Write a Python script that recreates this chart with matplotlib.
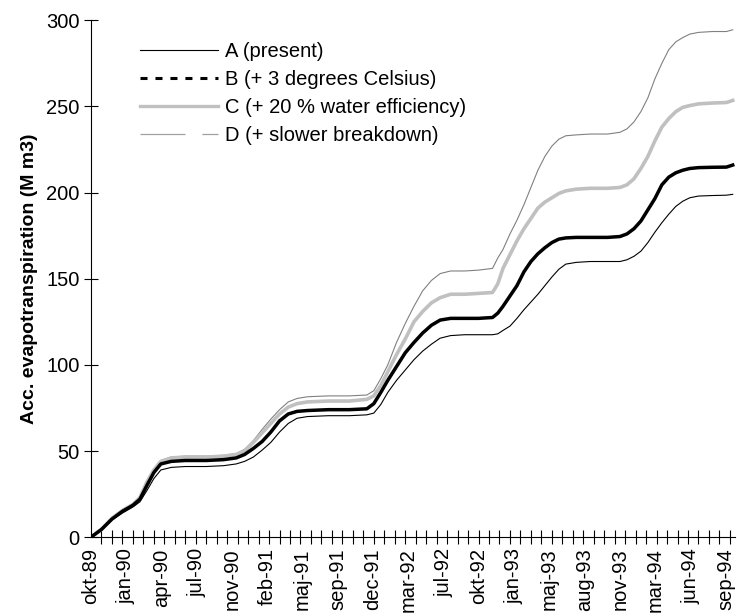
import matplotlib
matplotlib.use("Agg")
import matplotlib.pyplot as plt
from matplotlib.lines import Line2D

plt.rcParams["font.family"] = ["Liberation Sans", "DejaVu Sans"]

# days since 1 Oct 1989 (M m3)
days = [0, 30, 60, 90, 120, 140, 160, 180, 200, 230,
        270, 330, 380, 416, 440, 465, 490, 515, 540, 565,
        590, 620, 680, 740, 790, 810, 830, 850, 875, 900,
        925, 950, 975, 1000, 1030, 1070, 1110, 1150, 1165, 1180,
        1200, 1220, 1240, 1260, 1280, 1300, 1320, 1340, 1360, 1390,
        1430, 1480, 1515, 1535, 1555, 1575, 1595, 1615, 1635, 1655,
        1675, 1695, 1715, 1740, 1780, 1820, 1838]

series_a = [0, 4, 10, 14, 17.5, 20.5, 27, 34, 39, 40.5,
            41, 41, 41.5, 42.5, 44, 46.5, 50.5, 55, 61, 66,
            69, 70, 70.5, 70.5, 71, 72, 77, 84, 91, 97,
            103, 108, 112, 115.5, 117, 117.5, 117.5, 117.5, 118, 120,
            122.5, 127, 132, 136.5, 141, 146, 151, 155.5, 158.5, 159.5,
            160, 160, 160, 161, 163, 166, 171, 177, 182.5, 187.5,
            192, 195, 197, 198, 198.3, 198.5, 199]

series_b = [0, 4.5, 10.5, 15, 18.5, 22, 30, 37.5, 42.5, 44,
            44.5, 44.5, 45, 46, 48, 51.5, 55.5, 61, 67.5, 71.5,
            73, 73.5, 74, 74, 74.5, 77.5, 84, 91, 99, 107,
            113, 118.5, 123, 126, 127, 127, 127, 127.5, 130, 134,
            140, 146, 154, 160, 164.5, 168, 171, 173, 173.7, 174,
            174, 174, 174.5, 176, 179, 183.5, 190, 196.5, 204.5, 209,
            211.5, 213, 214, 214.5, 214.7, 214.8, 216]

series_c = [0, 4.5, 11, 15.5, 19, 23, 32, 39, 44, 46,
            46.5, 46.5, 47, 48, 50, 55, 60.5, 66, 71.5, 75.5,
            77.5, 78.5, 79, 79, 80, 82, 88, 96, 106, 115,
            125, 131, 136, 139, 141, 141, 141.5, 142, 147, 156,
            164, 172, 179, 185, 191, 194.5, 197, 199.5, 201, 202,
            202.5, 202.5, 203, 204.5, 208, 214, 221, 230, 238, 243,
            247, 249.5, 250.5, 251.5, 252, 252.3, 253.5]

series_d = [0, 4.5, 11, 15.5, 19, 23, 32, 39, 44.5, 46.5,
            47, 47, 47.5, 48.5, 51, 56, 62.5, 68.5, 74, 78.5,
            80.5, 81.5, 82, 82, 82.5, 85, 92, 100, 113, 124,
            134, 143, 149, 153, 154.5, 154.5, 155, 156, 162, 167,
            176, 184, 193, 203, 213, 221, 227, 231, 233, 233.5,
            234, 234, 235, 237, 241, 247, 255, 266, 275, 283,
            287.5, 290, 292, 293, 293.5, 293.5, 294.5]

labels = ["A (present)", "B (+ 3 degrees Celsius)",
          "C (+ 20 % water efficiency)", "D (+ slower breakdown)"]

# category labels shown every 101 days
tick_days = [0, 101, 202, 303, 404, 505, 606, 707, 808, 909,
             1010, 1111, 1212, 1313, 1414, 1515, 1616, 1717, 1818]
tick_labels = ["okt-89", "jan-90", "apr-90", "jul-90", "nov-90", "feb-91",
               "maj-91", "sep-91", "dec-91", "mar-92", "jul-92", "okt-92",
               "jan-93", "maj-93", "aug-93", "nov-93", "mar-94", "jun-94",
               "sep-94"]

fig = plt.figure(figsize=(7.37, 6.16), dpi=100)
ax = fig.add_axes([0.1235, 0.128, 0.874, 0.839])

ax.plot(days, series_d, color="#808080", lw=0.8, zorder=1)
ax.plot(days, series_c, color="#c0c0c0", lw=2.6, zorder=2)
ax.plot(days, series_a, color="black", lw=0.8, zorder=3)
ax.plot(days, series_b, color="black", lw=2.5, zorder=4)

ax.set_xlim(0, 1845)
ax.set_ylim(0, 300)
ax.set_yticks(range(0, 301, 50))
ax.set_xticks(tick_days)
ax.set_xticklabels(tick_labels, rotation=90)
ax.set_xticks(list(range(0, 1846, 30)), minor=True)
ax.tick_params(axis="x", which="major", length=0, labelsize=14.5, pad=8)
ax.tick_params(axis="x", which="minor", direction="inout", length=9.5, width=0.8)
ax.tick_params(axis="y", direction="inout", length=9.5, width=0.8, labelsize=14.5)

for side in ("top", "right"):
    ax.spines[side].set_visible(False)
for side in ("left", "bottom"):
    ax.spines[side].set_linewidth(0.8)

ax.set_ylabel("Acc. evapotranspiration (M m3)", fontsize=14, fontweight="bold",
              labelpad=6)

handles = [
    Line2D([], [], color="black", lw=0.8),
    Line2D([], [], color="black", lw=2.2, dashes=(2.3, 2.6)),
    Line2D([], [], color="#c0c0c0", lw=2.4),
    Line2D([], [], color="#a0a0a0", lw=0.9, dashes=(36, 13.5)),
]
ax.legend(handles, labels, loc="upper left",
          bbox_to_anchor=(140 / 737, 1 - 42 / 616), bbox_transform=fig.transFigure,
          frameon=False, fontsize=14.5, handlelength=3.85, handletextpad=0.35,
          labelspacing=0.45, borderpad=0, borderaxespad=0)

plt.savefig("out.png", dpi=100)
plt.close()
